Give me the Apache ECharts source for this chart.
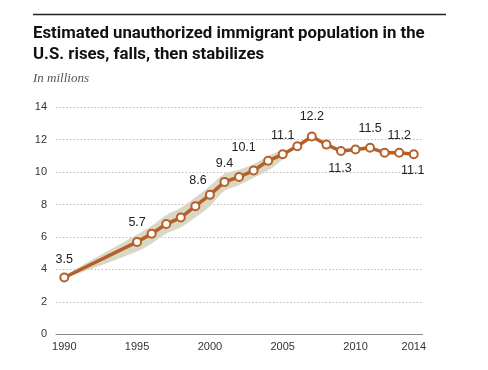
<!DOCTYPE html>
<html>
<head>
<meta charset="utf-8">
<script src="https://cdn.jsdelivr.net/npm/echarts@6/dist/echarts.min.js"></script>
<style>html,body{margin:0;padding:0;background:#fff}#c{width:488px;height:370px}</style>
</head>
<body>
<div id="c"></div>
<script>
var years = [1990, 1995, 1996, 1997, 1998, 1999, 2000, 2001, 2002, 2003, 2004, 2005, 2006, 2007, 2008, 2009, 2010, 2011, 2012, 2013, 2014];
var population = [3.5, 5.7, 6.2, 6.8, 7.2, 7.9, 8.6, 9.4, 9.7, 10.1, 10.7, 11.1, 11.6, 12.2, 11.7, 11.3, 11.4, 11.5, 11.2, 11.2, 11.1];
var bandYears = [1990, 1995, 1996, 1997, 1998, 1999, 2000, 2001, 2002, 2003, 2004, 2005, 2005.4];
var bandLow = [3.45, 5.1, 5.6, 6.2, 6.6, 7.2, 7.9, 8.85, 9.2, 9.65, 10.1, 10.8, 11.2];
var bandHigh = [3.6, 6.15, 6.7, 7.35, 7.8, 8.45, 9.15, 9.9, 10.15, 10.5, 11.0, 11.35, 11.25];
var labeledYears = [1990, 1995, 2000, 2001, 2003, 2005, 2007, 2009, 2011, 2013, 2014];
var xTickLabels = [1990, 1995, 2000, 2005, 2010, 2014];

var labelStyle = {
  1990: {position: 'top', offset: [0, -1]},
  1995: {position: 'top', offset: [0, -2]},
  2000: {position: 'top', offset: [-12, 3]},
  2001: {position: 'top', offset: [0, -1]},
  2003: {position: 'top', offset: [-10, -5]},
  2005: {position: 'top', offset: [0, -1]},
  2007: {position: 'top', offset: [0, -2]},
  2009: {position: 'bottom', offset: [-1, 0]},
  2011: {position: 'top', offset: [0, -2]},
  2013: {position: 'top', offset: [0, 0]},
  2014: {position: 'bottom', offset: [-1, -1]}
};

var mainData = years.map(function (y, i) {
  var item = {value: [y, population[i]]};
  if (labeledYears.indexOf(y) >= 0) {
    var ls = labelStyle[y];
    item.label = {show: true, position: ls.position, offset: ls.offset, distance: 6};
  }
  return item;
});

var bandData = bandYears.map(function (y, i) { return [y, bandLow[i], bandHigh[i]]; });

function renderBand(params, api) {
  if (params.dataIndex !== 0) return null;
  var upper = [], lower = [];
  for (var i = 0; i < bandData.length; i++) {
    upper.push(api.coord([bandData[i][0], bandData[i][2]]));
    lower.push(api.coord([bandData[i][0], bandData[i][1]]));
  }
  var pts = upper.concat(lower.reverse());
  return {
    type: 'polygon',
    shape: {points: pts, smooth: 0.35},
    style: {fill: '#dbd7c5', stroke: null},
    silent: true
  };
}

var chart = echarts.init(document.getElementById('c'), null, {renderer: 'canvas'});
chart.setOption({
  animation: false,
  title: [
    {
      text: 'Estimated unauthorized immigrant population in the\nU.S. rises, falls, then stabilizes',
      left: 33, top: 23, padding: 0,
      textStyle: {fontFamily: 'Roboto', fontWeight: 'bold', fontSize: 16.8, color: '#111', lineHeight: 21.5}
    },
    {
      text: 'In millions',
      left: 33, top: 72, padding: 0,
      textStyle: {fontFamily: 'Liberation Serif', fontStyle: 'italic', fontWeight: 'normal', fontSize: 13, color: '#555'}
    }
  ],
  graphic: [
    {type: 'line', shape: {x1: 33, y1: 14.5, x2: 446, y2: 14.5}, style: {stroke: '#222', lineWidth: 1.3}}
  ],
  grid: {left: 56, right: 65.5, top: 107.3, bottom: 35.7, containLabel: false},
  xAxis: {
    type: 'value', min: 1989.43, max: 2014.6,
    axisLine: {show: true, lineStyle: {color: '#8a8a8a', width: 1.2}},
    axisTick: {show: false},
    splitLine: {show: false},
    axisLabel: {
      customValues: xTickLabels,
      formatter: function (v) { return String(v); },
      color: '#333', fontSize: 11, fontFamily: 'Liberation Sans', margin: 7
    }
  },
  yAxis: {
    type: 'value', min: 0, max: 14, interval: 2,
    axisLine: {show: false}, axisTick: {show: false},
    splitLine: {show: true, lineStyle: {color: '#bdbdbd', type: [1.5, 2], width: 1}},
    axisLabel: {color: '#333', fontSize: 11, fontFamily: 'Liberation Sans', margin: 9}
  },
  series: [
    {
      type: 'custom', name: 'Uncertainty range',
      data: bandData,
      encode: {x: 0, y: [1, 2]},
      renderItem: renderBand,
      silent: true, z: 1
    },
    {
      type: 'line', name: 'Unauthorized immigrants',
      data: mainData,
      symbol: 'circle', symbolSize: 8,
      itemStyle: {color: '#fff', borderColor: '#b5602a', borderWidth: 2},
      lineStyle: {color: '#b5602a', width: 3.5},
      label: {show: false, color: '#222', fontSize: 12.5, fontFamily: 'Liberation Sans',
        formatter: function (p) { return p.value[1].toFixed(1); }},
      z: 3
    }
  ]
});
</script>
</body>
</html>
